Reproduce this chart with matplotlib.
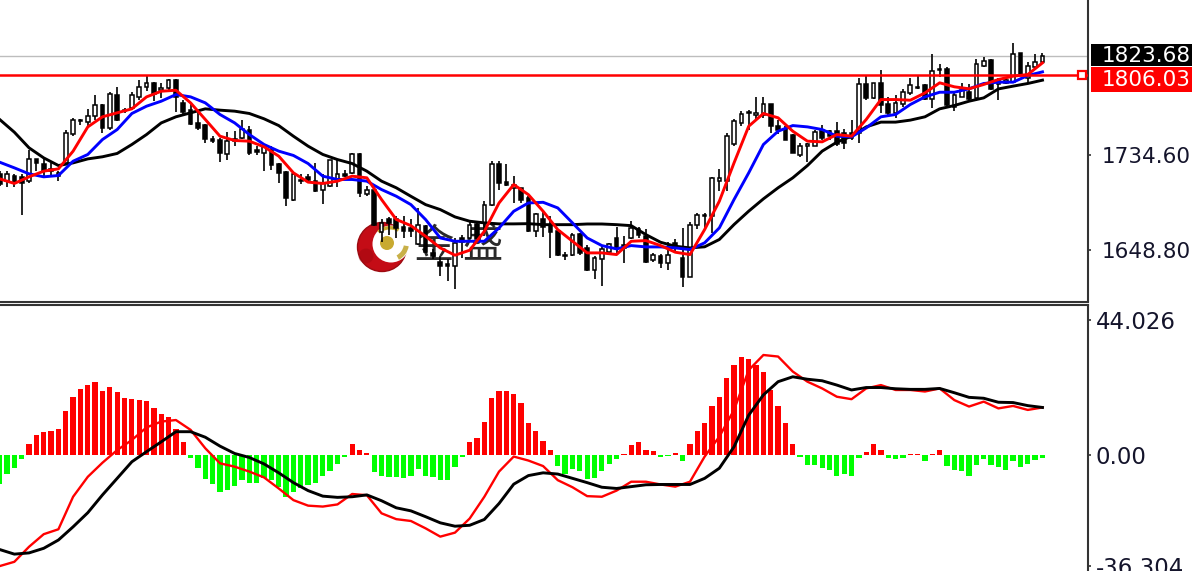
"""
plot.py -- Gold daily chart with moving averages and a MACD pane (MT4 look).
"""

import numpy as np
import matplotlib
matplotlib.use('Agg')
import matplotlib.pyplot as plt
import matplotlib.patches as mpatches

plt.rcParams['font.family'] = ['DejaVu Sans', 'Noto Sans CJK SC']

# ── Candles ───────────────────────────────────────────────────────────────────
opens = [
    1717, 1711, 1715, 1714, 1711, 1731, 1726, 1722, 1715, 1727,
    1753, 1766, 1764, 1769, 1779, 1759, 1788, 1775, 1777, 1787,
    1796, 1799, 1793, 1795, 1802, 1781, 1775, 1763, 1761, 1749,
    1748, 1735, 1749, 1750, 1757, 1739, 1736, 1739, 1726, 1719,
    1694, 1712, 1714, 1711, 1703, 1706, 1711, 1717, 1718, 1735,
    1699, 1703, 1665, 1676, 1676, 1669, 1668, 1654, 1670, 1646,
    1638, 1636, 1634, 1659, 1659, 1672, 1673, 1689, 1726, 1710,
    1704, 1704, 1695, 1666, 1676, 1671, 1666, 1644, 1644, 1663,
    1650, 1630, 1640, 1647, 1659, 1653, 1659, 1667, 1661, 1639,
    1643, 1637, 1655, 1641, 1624, 1671, 1679, 1679, 1711, 1711,
    1744, 1763, 1772, 1770, 1770, 1780, 1760, 1758, 1752, 1734,
    1742, 1742, 1757, 1756, 1756, 1754, 1754, 1754, 1798, 1786,
    1799, 1780, 1772, 1780, 1790, 1795, 1797, 1785, 1812, 1812,
    1778, 1787, 1791, 1786, 1815, 1820, 1798, 1799, 1800, 1826,
    1804, 1814, 1818,
]
closes = [
    1708, 1717, 1709, 1709, 1731, 1727, 1720, 1720, 1718, 1754,
    1766, 1765, 1769, 1779, 1759, 1789, 1766, 1774, 1788, 1796,
    1799, 1789, 1795, 1802, 1787, 1773, 1762, 1759, 1749, 1747,
    1736, 1747, 1747, 1758, 1736, 1737, 1741, 1725, 1718, 1695,
    1717, 1711, 1712, 1702, 1709, 1730, 1717, 1715, 1735, 1700,
    1703, 1671, 1673, 1673, 1668, 1666, 1666, 1671, 1647, 1643,
    1634, 1634, 1655, 1656, 1671, 1658, 1689, 1726, 1709, 1707,
    1707, 1694, 1666, 1681, 1669, 1665, 1644, 1643, 1662, 1646,
    1630, 1641, 1649, 1654, 1650, 1650, 1668, 1662, 1638, 1644,
    1637, 1644, 1652, 1624, 1671, 1680, 1680, 1713, 1713, 1751,
    1765, 1771, 1773, 1772, 1780, 1760, 1757, 1748, 1736, 1742,
    1744, 1755, 1750, 1751, 1744, 1745, 1750, 1798, 1786, 1799,
    1779, 1772, 1781, 1791, 1797, 1796, 1785, 1810, 1811, 1779,
    1788, 1793, 1785, 1816, 1819, 1794, 1802, 1802, 1825, 1807,
    1815, 1818, 1824,
]
highs = [
    1720, 1720, 1717, 1717, 1739, 1731, 1732, 1727, 1720, 1757,
    1768, 1767, 1776, 1788, 1780, 1791, 1796, 1777, 1791, 1802,
    1806, 1800, 1799, 1803, 1803, 1784, 1780, 1773, 1762, 1751,
    1750, 1755, 1756, 1766, 1760, 1742, 1742, 1742, 1727, 1720,
    1718, 1717, 1717, 1727, 1717, 1730, 1730, 1721, 1736, 1736,
    1706, 1704, 1676, 1678, 1679, 1679, 1676, 1686, 1671, 1649,
    1643, 1640, 1659, 1662, 1674, 1674, 1693, 1729, 1729, 1726,
    1715, 1704, 1697, 1682, 1683, 1679, 1667, 1647, 1664, 1664,
    1653, 1643, 1652, 1655, 1669, 1661, 1675, 1669, 1667, 1646,
    1645, 1656, 1658, 1668, 1674, 1682, 1682, 1714, 1722, 1754,
    1767, 1774, 1775, 1787, 1787, 1780, 1766, 1760, 1753, 1745,
    1745, 1757, 1761, 1757, 1764, 1758, 1766, 1804, 1806, 1799,
    1811, 1787, 1788, 1794, 1804, 1806, 1798, 1825, 1816, 1814,
    1790, 1799, 1798, 1821, 1823, 1821, 1804, 1804, 1835, 1826,
    1818, 1825, 1826,
]
lows = [
    1706, 1705, 1705, 1680, 1709, 1720, 1714, 1715, 1711, 1726,
    1751, 1761, 1760, 1766, 1754, 1757, 1765, 1772, 1775, 1784,
    1792, 1783, 1786, 1793, 1773, 1771, 1761, 1757, 1745, 1745,
    1728, 1730, 1742, 1749, 1734, 1734, 1720, 1721, 1709, 1688,
    1693, 1708, 1709, 1701, 1690, 1705, 1705, 1714, 1717, 1696,
    1697, 1670, 1656, 1662, 1659, 1659, 1660, 1653, 1646, 1640,
    1625, 1620, 1613, 1641, 1658, 1656, 1661, 1688, 1703, 1706,
    1691, 1691, 1665, 1660, 1660, 1641, 1643, 1639, 1643, 1644,
    1629, 1622, 1616, 1646, 1644, 1637, 1658, 1659, 1637, 1638,
    1632, 1630, 1646, 1615, 1624, 1667, 1667, 1664, 1702, 1702,
    1742, 1760, 1757, 1766, 1768, 1754, 1753, 1748, 1736, 1732,
    1728, 1742, 1748, 1748, 1742, 1740, 1748, 1745, 1784, 1785,
    1772, 1770, 1768, 1778, 1788, 1794, 1784, 1777, 1805, 1778,
    1774, 1787, 1783, 1783, 1814, 1793, 1784, 1798, 1799, 1806,
    1799, 1813, 1817,
]

# ── Moving averages, read every second bar ────────────────────────────────────
line_bars = list(range(0, 143, 2))
ma_fast = [
    1712.7, 1708.5, 1714.5, 1719.6, 1721.7, 1737.7, 1759.6, 1768.7, 1772.3, 1775.9,
    1786.7, 1791.8, 1792.7, 1781.3, 1766.3, 1751.2, 1747.3, 1746.7, 1741.6, 1733.2,
    1718.1, 1709.7, 1708.5, 1710.6, 1715.1, 1713.6, 1694.0, 1676.0, 1670.4, 1660.8,
    1650.3, 1643.7, 1648.2, 1665.3, 1690.9, 1707.5, 1698.4, 1683.4, 1666.8, 1656.3,
    1645.8, 1645.8, 1644.3, 1656.3, 1656.9, 1652.4, 1646.4, 1644.3, 1666.9, 1692.5,
    1727.1, 1760.2, 1771.7, 1767.8, 1755.7, 1746.7, 1746.1, 1752.7, 1751.2, 1766.3,
    1784.3, 1784.3, 1783.7, 1790.3, 1799.4, 1795.8, 1794.0, 1797.9, 1802.4, 1805.4,
    1806.9, 1817.4,
]
ma_mid = [
    1727.7, 1722.6, 1717.2, 1714.5, 1715.7, 1728.6, 1734.7, 1748.2, 1757.2, 1771.7,
    1778.3, 1782.8, 1788.8, 1786.7, 1781.3, 1770.8, 1763.2, 1752.7, 1743.7, 1737.7,
    1733.8, 1726.5, 1715.1, 1712.1, 1712.1, 1710.6, 1703.0, 1697.0, 1689.4, 1675.9,
    1659.3, 1656.3, 1656.3, 1656.3, 1668.3, 1683.4, 1690.9, 1691.5, 1686.4, 1672.9,
    1659.3, 1652.4, 1649.4, 1652.4, 1651.2, 1651.2, 1650.3, 1648.8, 1654.9, 1668.4,
    1694.0, 1718.1, 1743.7, 1755.7, 1760.8, 1759.6, 1757.2, 1751.2, 1750.6, 1758.7,
    1768.7, 1770.8, 1779.8, 1786.7, 1790.9, 1790.9, 1794.0, 1798.8, 1800.0, 1800.0,
    1806.0, 1809.3,
]
ma_slow = [
    1766.3, 1754.8, 1740.7, 1731.6, 1724.7, 1727.1, 1730.7, 1732.6, 1735.6, 1743.7,
    1752.7, 1763.2, 1768.7, 1772.3, 1775.9, 1774.7, 1773.8, 1771.7, 1766.9, 1760.8,
    1751.2, 1742.2, 1734.7, 1730.1, 1726.5, 1719.6, 1710.6, 1704.6, 1696.9, 1689.4,
    1684.9, 1678.3, 1674.4, 1672.9, 1672.0, 1672.0, 1672.2, 1671.3, 1671.3, 1671.3,
    1671.9, 1671.9, 1671.3, 1670.4, 1662.3, 1655.4, 1651.8, 1650.3, 1651.3, 1657.9,
    1671.4, 1683.5, 1694.6, 1704.6, 1713.6, 1724.7, 1737.7, 1745.8, 1751.2, 1759.6,
    1763.9, 1763.9, 1765.7, 1768.7, 1775.9, 1778.9, 1782.8, 1785.8, 1793.9, 1796.4,
    1798.8, 1801.8,
]

# ── MACD pane ─────────────────────────────────────────────────────────────────
macd_hist = [
    -9.5, -6.3, -4.3, -1.4, 3.6, 6.5, 7.4, 7.9, 8.5, 14.2,
    19.0, 21.4, 22.8, 23.9, 21.0, 22.3, 20.4, 18.5, 18.2, 17.9,
    17.6, 15.2, 13.3, 12.3, 8.4, 4.1, -1.1, -4.3, -7.8, -9.6,
    -12.0, -11.4, -10.1, -8.2, -9.2, -9.2, -7.6, -8.2, -10.3, -13.6,
    -12.0, -10.9, -9.8, -9.2, -6.8, -5.2, -2.9, -0.5, 3.6, 1.6,
    0.8, -5.4, -6.8, -7.1, -7.3, -7.6, -6.7, -4.7, -6.8, -7.1,
    -8.2, -8.2, -3.8, -0.5, 4.1, 5.7, 10.9, 18.5, 21.0, 21.0,
    19.9, 17.1, 10.3, 7.9, 4.7, 1.8, -3.5, -6.3, -4.7, -5.2,
    -7.9, -7.6, -5.2, -2.9, -1.4, 0.2, 3.2, 4.1, 1.8, 1.3,
    -0.5, -0.4, 0.8, -2.0, 3.6, 7.9, 10.3, 16.1, 19.0, 25.2,
    29.3, 31.8, 31.3, 29.3, 27.0, 21.2, 16.1, 10.3, 3.6, -0.5,
    -3.3, -3.3, -4.3, -4.9, -6.7, -6.3, -6.7, -0.9, 0.9, 3.6,
    1.6, -1.1, -1.4, -0.9, 0.2, 0.2, -1.8, 0.2, 1.6, -3.5,
    -4.9, -5.2, -6.7, -3.3, -1.4, -3.3, -3.8, -4.9, -1.8, -3.8,
    -2.9, -1.6, -0.9,
]
macd_fast = [
    -36.2, -34.8, -29.9, -25.8, -24.2, -13.6, -7.1, -2.5, 1.6, 4.9,
    9.0, 10.9, 11.4, 8.2, 2.2, -2.7, -3.8, -5.4, -7.3, -10.9,
    -14.7, -16.5, -16.8, -16.1, -12.7, -13.1, -19.0, -20.9, -21.5, -23.9,
    -26.6, -25.3, -20.7, -13.6, -5.4, -0.5, -1.8, -3.6, -8.2, -10.5,
    -13.4, -13.6, -11.6, -8.7, -8.7, -9.6, -10.3, -8.7, -0.5, 6.0,
    14.7, 27.7, 32.6, 32.1, 27.2, 23.9, 21.7, 19.0, 18.2, 21.7,
    22.8, 21.2, 21.2, 20.7, 21.7, 17.9, 15.8, 17.4, 15.2, 16.0,
    14.7, 15.5,
]
macd_signal = [
    -30.8, -32.3, -31.9, -30.4, -27.7, -23.4, -18.8, -13.0, -7.6, -2.2,
    1.1, 4.3, 7.6, 7.6, 5.8, 2.9, 0.5, -0.8, -2.9, -5.8,
    -9.0, -11.6, -13.4, -13.8, -13.6, -13.0, -14.9, -17.2, -18.2, -20.1,
    -22.1, -23.2, -22.9, -21.0, -15.8, -9.5, -6.7, -5.8, -6.2, -7.6,
    -9.0, -10.5, -10.9, -10.3, -9.7, -9.6, -9.6, -9.6, -7.6, -4.3,
    2.7, 13.0, 19.6, 23.9, 25.5, 24.7, 24.2, 22.8, 21.2, 22.0,
    22.0, 21.6, 21.4, 21.4, 21.7, 20.3, 18.8, 18.5, 17.2, 17.1,
    16.1, 15.5,
]

# ── Axis labels and levels ────────────────────────────────────────────────────
price_ticks = [1734.60, 1648.80]
macd_ticks = [44.026, 0.0, -36.304]
macd_tick_labels = ['44.026', '0.00', '-36.304']
bid_price = 1823.68
level_price = 1806.03

W, H = 1192, 571
TEXT = '#14142b'
AXIS = '#333333'
RED = '#ff0000'
LIME = '#00ff00'
BODY_W = 0.50
HIST_W = 0.72
PRICE_LABEL_SIZE = 15.5
MACD_LABEL_SIZE = 16.5


def draw_candles(ax, x):
    o = np.array(opens, dtype=float)
    c = np.array(closes, dtype=float)
    up = c >= o
    ax.vlines(x, lows, highs, color='black', lw=1.2, zorder=2)
    ax.bar(x[up], (c - o)[up], bottom=o[up], width=BODY_W,
           facecolor='white', edgecolor='black', linewidth=1.1, zorder=3)
    ax.bar(x[~up], (c - o)[~up], bottom=o[~up], width=BODY_W,
           facecolor='black', edgecolor='black', linewidth=1.1, zorder=3)


def style_right_axis(ax, ticks, labels, pad, size):
    ax.yaxis.tick_right()
    ax.set_yticks(ticks)
    ax.set_yticklabels(labels, fontsize=size, color=TEXT)
    ax.tick_params(axis='y', length=2.5, width=1.2, color=AXIS, pad=pad)
    ax.set_xticks([])
    ax.patch.set_visible(False)
    ax.spines['left'].set_visible(False)
    for side in ('right', 'top', 'bottom'):
        ax.spines[side].set_color(AXIS)
        ax.spines[side].set_linewidth(1.5)


def draw_logo(bg):
    """Red crescent with the gold ball plus the two watermark characters."""
    bg.add_patch(mpatches.Circle((382, 247), 24.5, facecolor='#c40c16', edgecolor='#9c0a10', lw=1))
    bg.add_patch(mpatches.Circle((366, 256), 7.5, facecolor='#a00810', edgecolor='none', alpha=0.5))
    bg.add_patch(mpatches.Circle((391, 244), 18.5, facecolor='white', edgecolor='none'))
    bg.add_patch(mpatches.Circle((387, 243), 7, facecolor='#c8aa30', edgecolor='none'))
    bg.add_patch(mpatches.Wedge((390, 245), 19, 228, 300, width=3.5, facecolor='#c8aa30', edgecolor='none'))
    bg.add_patch(mpatches.Wedge((390, 243), 19, 10, 62, width=5, facecolor='#c8b048', edgecolor='none'))
    for cx, ch in ((433.5, '金'), (482, '盛')):
        bg.text(cx, 246, ch, fontsize=29, color='#2a2a2a', ha='center', va='center',
                family=['Noto Sans CJK SC', 'DejaVu Sans'])


# ── Figure ────────────────────────────────────────────────────────────────────
fig = plt.figure(figsize=(W / 100, H / 100), dpi=100, facecolor='white')

bg = fig.add_axes([0, 0, 1, 1], zorder=0)
bg.set_xlim(0, W)
bg.set_ylim(H, 0)
bg.axis('off')
draw_logo(bg)

mid_y, low_y, right_x = 301.5, 304.5, 1088.0
ax_top = fig.add_axes([0, 1 - mid_y / H, right_x / W, mid_y / H], zorder=2)
ax_low = fig.add_axes([0, 0, right_x / W, 1 - low_y / H], zorder=2)

bars = np.arange(len(opens))
line_x = np.array(line_bars)
xlim = (0.045, 148.2)

# ── Price pane ────────────────────────────────────────────────────────────────
ax_top.axhline(bid_price, color='#bdbdbd', lw=1.0, zorder=1)
draw_candles(ax_top, bars)
ax_top.plot(line_x, ma_slow, color='black', lw=2.1, zorder=4)
ax_top.plot(line_x, ma_mid, color='#0000ff', lw=2.1, zorder=5)
ax_top.plot(line_x, ma_fast, color=RED, lw=2.1, zorder=6)
ax_top.axhline(level_price, color=RED, lw=1.8, zorder=7)
ax_top.plot([0.9945], [level_price], marker='s', ms=5.5, mfc='white', mec=RED, mew=1.6,
            transform=ax_top.get_yaxis_transform(), zorder=8, clip_on=False)
ax_top.set_xlim(*xlim)
ax_top.set_ylim(1601.9, 1874.2)
style_right_axis(ax_top, price_ticks, [f'{p:.2f}' for p in price_ticks], pad=7.5, size=PRICE_LABEL_SIZE)
ax_top.spines['top'].set_visible(False)

# current price and level flags at the axis
flag_tr = ax_top.get_yaxis_transform()
ax_top.add_patch(mpatches.Rectangle((1.0028, bid_price - 8.8), 0.1, 20.0, facecolor='black',
                                    edgecolor='none', transform=flag_tr, clip_on=False, zorder=9))
ax_top.add_patch(mpatches.Rectangle((1.0028, level_price - 14.5), 0.1, 21.8, facecolor=RED,
                                    edgecolor='none', transform=flag_tr, clip_on=False, zorder=9))
ax_top.text(1.0125, bid_price, f'{bid_price:.2f}', color='white', fontsize=PRICE_LABEL_SIZE, va='center',
            ha='left', transform=flag_tr, clip_on=False, zorder=10)
ax_top.text(1.0125, level_price - 4.0, f'{level_price:.2f}', color='white', fontsize=PRICE_LABEL_SIZE, va='center',
            ha='left', transform=flag_tr, clip_on=False, zorder=10)

# ── MACD pane ─────────────────────────────────────────────────────────────────
hist = np.array(macd_hist)
ax_low.bar(bars[hist >= 0], hist[hist >= 0], width=HIST_W, color=RED, zorder=2)
ax_low.bar(bars[hist < 0], hist[hist < 0], width=HIST_W, color=LIME, zorder=2)
ax_low.plot(line_x, macd_fast, color=RED, lw=1.7, zorder=3)
ax_low.plot(line_x, macd_signal, color='black', lw=2.1, zorder=4)
ax_low.set_xlim(*xlim)
ax_low.set_ylim(-37.8, 49.06)
style_right_axis(ax_low, macd_ticks, macd_tick_labels, pad=3, size=MACD_LABEL_SIZE)
ax_low.spines['bottom'].set_visible(False)

fig.savefig('out.png', dpi=100)
plt.close(fig)
